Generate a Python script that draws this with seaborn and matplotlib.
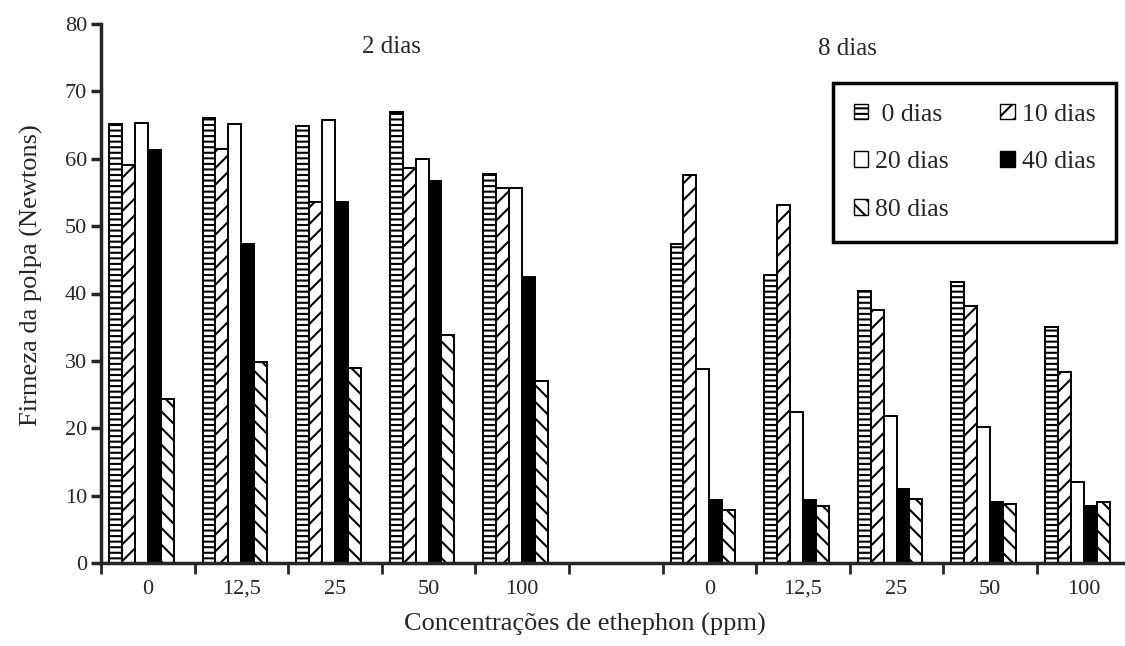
"""
firmeza da polpa vs concentracao de ethephon, barras agrupadas por dias de armazenamento
"""
import matplotlib
matplotlib.use('Agg')
import numpy as np
import pandas as pd
import seaborn as sns
import matplotlib.pyplot as plt
from matplotlib.patches import Patch

# data
conc = ['0', '12,5', '25', '50', '100']
storage = ['0 dias', '10 dias', '20 dias', '40 dias', '80 dias']

# 2 dias
d0_2 = [65.2, 66.1, 64.8, 67.0, 57.8]
d10_2 = [59.0, 61.5, 53.6, 58.7, 55.6]
d20_2 = [65.3, 65.1, 65.8, 59.9, 55.7]
d40_2 = [61.3, 47.3, 53.6, 56.7, 42.5]
d80_2 = [24.3, 29.8, 28.9, 33.9, 27.0]
# 8 dias
d0_8 = [47.4, 42.8, 40.3, 41.7, 35.1]
d10_8 = [57.6, 53.2, 37.5, 38.2, 28.3]
d20_8 = [28.8, 22.4, 21.8, 20.2, 12.0]
d40_8 = [9.4, 9.4, 11.0, 9.1, 8.5]
d80_8 = [7.9, 8.5, 9.5, 8.8, 9.1]

vals2 = [d0_2, d10_2, d20_2, d40_2, d80_2]
vals8 = [d0_8, d10_8, d20_8, d40_8, d80_8]

slots = [f'2d {c}' for c in conc] + ['gap'] + [f'8d {c}' for c in conc]
tick_labels = conc + [''] + conc

rows = []
for s, v2, v8 in zip(storage, vals2, vals8):
  for c, a, b in zip(conc, v2, v8):
    rows.append({'slot': f'2d {c}', 'armazenamento': s, 'firmeza': a})
    rows.append({'slot': f'8d {c}', 'armazenamento': s, 'firmeza': b})
df = pd.DataFrame(rows)

sns.set_style('ticks')
plt.rcParams['font.family'] = ['Liberation Serif', 'DejaVu Serif']
plt.rcParams['hatch.linewidth'] = 1.5

fills = {'0 dias': 'white', '10 dias': 'white', '20 dias': 'white',
         '40 dias': 'black', '80 dias': 'white'}
hatches = ['---', '//', '', '', '\\\\']

fig = plt.figure(figsize=(11.25, 6.46), dpi=100)
ax = fig.add_axes([101/1125, 1 - 563/646, 1029.6/1125, (563 - 24)/646])

sns.barplot(
  data=df, x='slot', y='firmeza', hue='armazenamento',
  order=slots, hue_order=storage, palette=fills, saturation=1,
  width=0.69, edgecolor='black', linewidth=1.4,
  errorbar=None, legend=False, ax=ax
)
for cont, h in zip(ax.containers, hatches):
  for p in cont:
    p.set_hatch(h)
    p.set_x(p.get_x() - 0.07)

ax.set_xlim(-0.5, 10.5)
ax.set_ylim(0, 80)
ax.set_yticks(range(0, 81, 10))
ax.set_xticks(range(11))
ax.set_xticklabels(tick_labels)
ax.set_xticks(np.arange(-0.5, 10, 1), minor=True)
ax.tick_params(axis='x', which='major', length=0, labelsize=16, pad=12)
ax.tick_params(axis='x', which='minor', length=8, width=2, direction='out')
ax.tick_params(axis='y', length=7, width=2.5, direction='out', labelsize=16, pad=3)
sns.despine(ax=ax)
for sp in ['left', 'bottom']:
  ax.spines[sp].set_linewidth(2.5)

ax.set_xlabel('Concentrações de ethephon (ppm)', fontsize=19)
ax.xaxis.set_label_coords(0.47, -0.092)
ax.set_ylabel('Firmeza da polpa (Newtons)', fontsize=19)
ax.yaxis.set_label_coords(-0.056, 0.535)

ax.text(2.6, 76.6, '2 dias', ha='center', va='center', fontsize=18)
ax.text(7.48, 76.3, '8 dias', ha='center', va='center', fontsize=18)

handles = [Patch(facecolor=fills[s], edgecolor='black', hatch=h,
                 label=(' ' + s if s == '0 dias' else s))
           for s, h in zip(storage, ['---', '//', '', '', '\\\\'])]
order = [0, 2, 4, 1, 3]
leg = ax.legend(
  handles=[handles[i] for i in order], ncol=2, loc='upper left',
  bbox_to_anchor=(833/1125, 1 - 83/646), bbox_transform=fig.transFigure,
  fontsize=18.5, frameon=True, fancybox=False, edgecolor='black',
  handlelength=0.55, handleheight=0.55, handletextpad=0.3,
  labelspacing=1.0, columnspacing=2.0, borderpad=0.8, borderaxespad=0
)
leg.get_frame().set_linewidth(2.5)
leg.get_frame().set_alpha(1)

fig.savefig('out.png', dpi=100)
